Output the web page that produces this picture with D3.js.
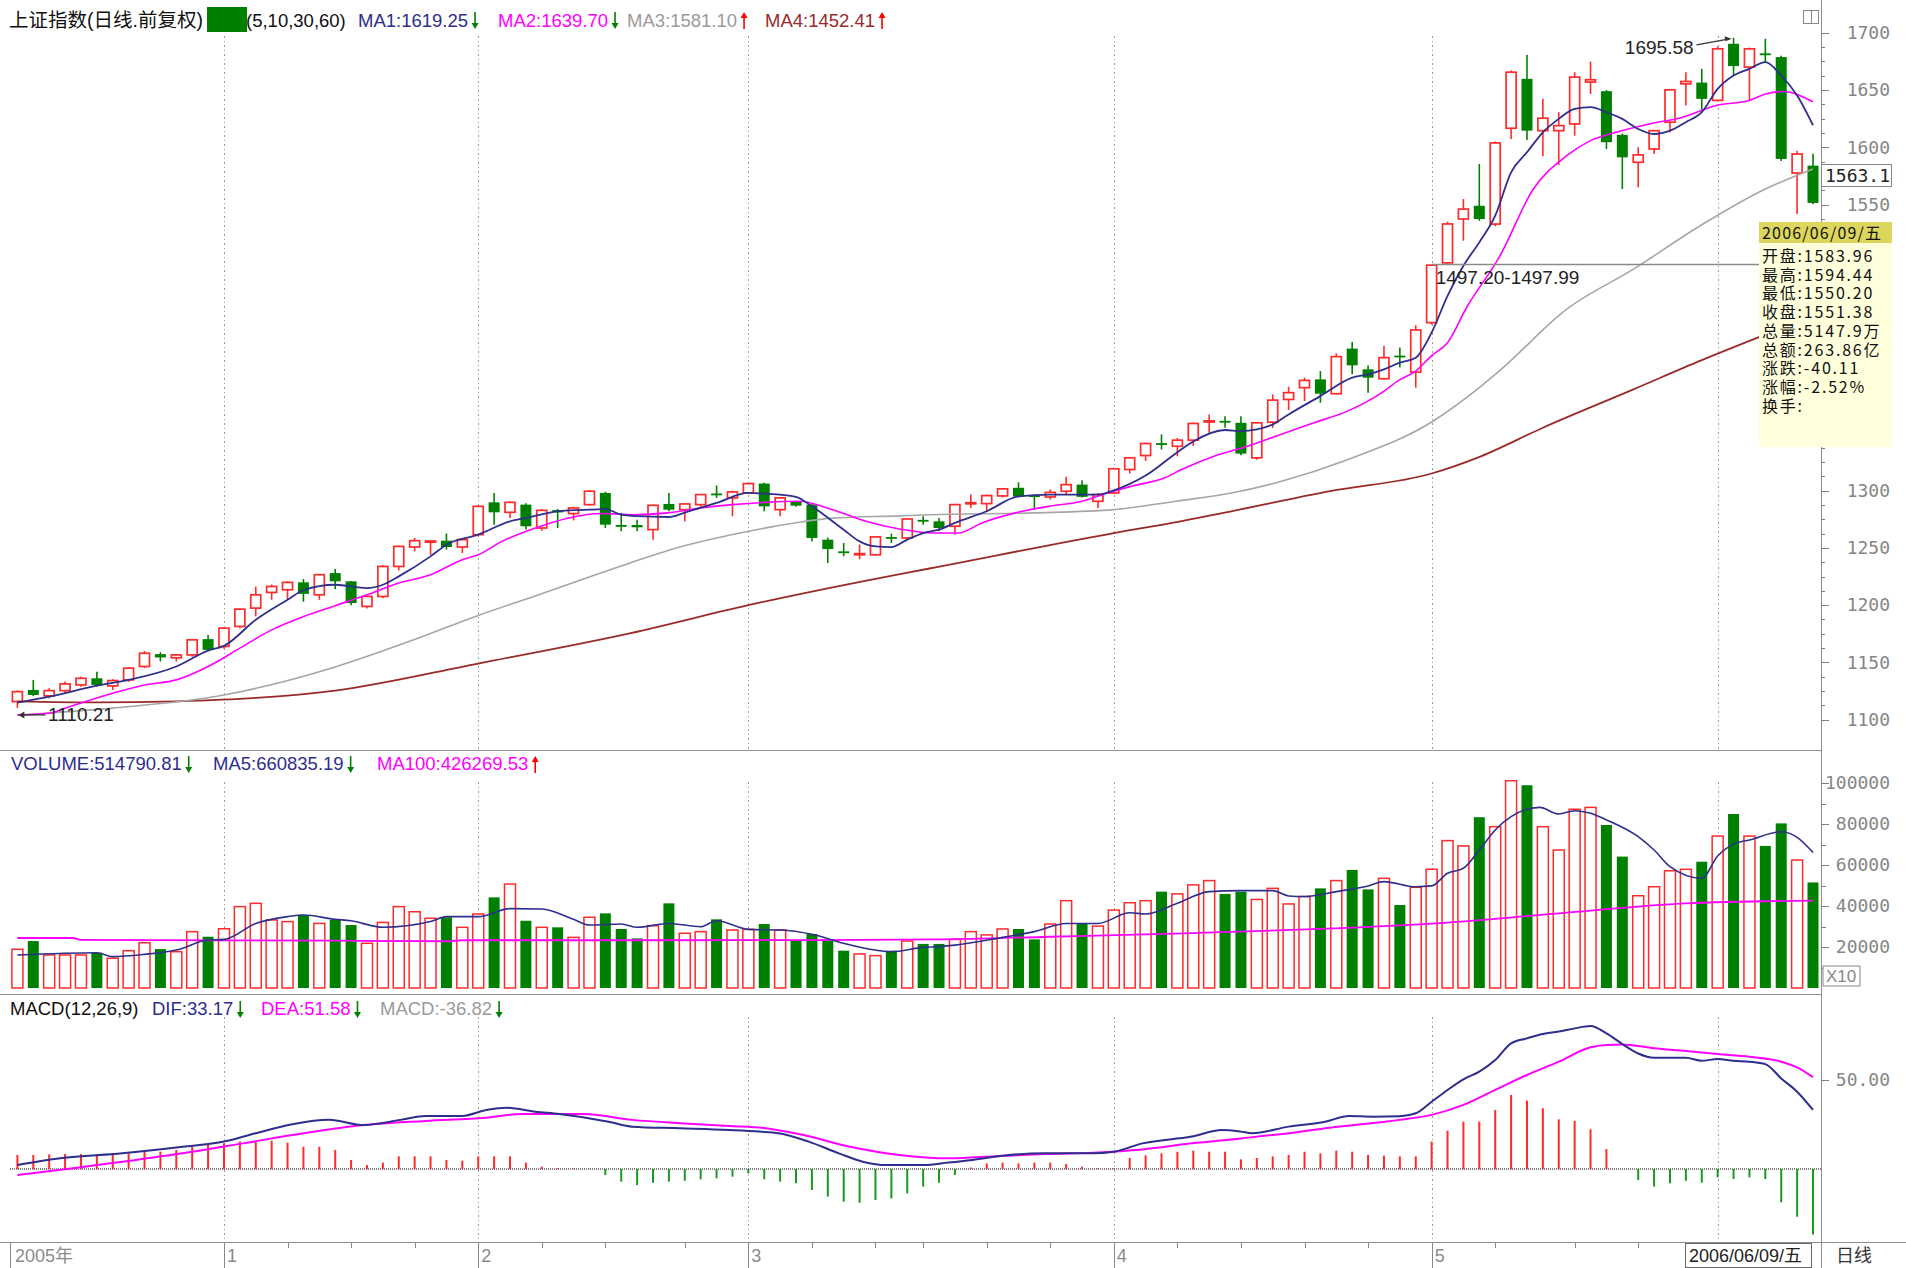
<html>
<head>
<meta charset="UTF-8"/>
<script src="https://d3js.org/d3.v7.min.js"></script>
<title>上证指数 日线</title>
<style>
body { margin:0; background:#fff; }
svg { display:block; font-family:"Liberation Sans", Arial, "Noto Sans CJK SC", sans-serif; }
.grid { stroke:#9a9a9a; stroke-dasharray:1.5 3; shape-rendering:crispEdges; }
.frame { stroke:#8f8f8f; stroke-width:1.2; fill:none; shape-rendering:crispEdges; }
.axis line { stroke:#808080; shape-rendering:crispEdges; }
.axis text { font-family:"DejaVu Sans Mono", monospace; fill:#858585; font-size:18px; }
.xaxis line { stroke:#888; shape-rendering:crispEdges; }
</style>
</head>
<body>
<svg id="chart" width="1906" height="1268"></svg>
<script>
'use strict';

// ---- data ----
// [open, high, low, close], Dec 2005 .. 2006-06-09
var ohlc = [
[1115.7,1125.5,1110.21,1124.4],[1125.9,1134.7,1120.5,1121.5],[1120.7,1127.4,1118.6,1125.3],[1125.3,1133.2,1123.0,1131.2],[1130.3,1137.6,1128.8,1136.1],
[1136.1,1141.9,1128.8,1130.3],[1129.4,1135.3,1125.9,1134.1],[1134.7,1146.0,1133.0,1144.9],[1146.4,1160.0,1145.0,1158.0],[1157.2,1158.9,1150.8,1154.3],
[1154.0,1157.0,1150.8,1156.5],[1156.5,1170.0,1155.0,1169.7],[1170.3,1173.8,1160.0,1160.9],[1163.9,1180.5,1162.0,1179.9],[1181.4,1197.0,1179.9,1196.5],
[1197.4,1216.3,1190.2,1209.0],[1211.1,1218.0,1204.7,1216.3],[1213.4,1220.8,1204.7,1219.9],[1219.9,1222.8,1203.0,1209.9],[1209.0,1227.0,1204.7,1226.6],
[1228.0,1231.6,1214.0,1220.8],[1220.8,1221.0,1200.0,1201.8],[1198.9,1208.0,1197.0,1207.6],[1207.6,1235.0,1206.0,1233.8],[1233.8,1252.0,1230.4,1251.3],
[1250.8,1258.7,1247.0,1256.3],[1255.0,1256.5,1244.0,1256.0],[1256.3,1262.5,1248.5,1250.8],[1250.8,1258.0,1245.5,1257.2],[1261.6,1287.0,1260.0,1286.3],
[1289.8,1298.0,1270.3,1281.1],[1281.1,1290.5,1276.2,1289.8],[1287.8,1289.0,1266.0,1268.9],[1267.4,1284.0,1265.0,1282.8],[1283.0,1284.0,1267.4,1281.0],
[1280.0,1286.0,1274.0,1284.9],[1287.8,1300.5,1287.0,1299.5],[1298.0,1299.0,1267.4,1270.3],[1270.0,1280.6,1264.5,1268.5],[1270.0,1274.7,1264.5,1268.0],
[1266.0,1288.0,1257.2,1287.2],[1288.4,1298.0,1282.0,1283.4],[1283.4,1289.0,1273.2,1288.4],[1287.8,1297.0,1286.0,1296.6],[1297.5,1304.5,1293.7,1296.5],
[1293.7,1300.0,1277.7,1298.9],[1298.0,1307.0,1297.0,1306.2],[1306.2,1307.0,1282.0,1286.3],[1283.4,1294.0,1277.7,1293.7],[1290.7,1291.0,1286.0,1286.9],
[1287.8,1289.0,1255.7,1258.7],[1257.2,1259.0,1236.8,1249.0],[1247.0,1254.3,1242.7,1245.5],[1244.0,1252.9,1240.0,1245.0],[1244.0,1260.0,1243.0,1259.6],
[1259.5,1262.5,1254.3,1258.5],[1258.7,1276.0,1257.0,1275.3],[1274.5,1277.7,1270.3,1273.5],[1273.2,1276.2,1264.5,1267.4],[1268.9,1288.5,1261.6,1287.8],
[1288.5,1296.6,1284.9,1289.5],[1288.7,1296.5,1282.0,1295.7],[1295.4,1302.0,1294.0,1301.6],[1302.5,1307.3,1294.0,1294.8],[1296.0,1296.6,1283.4,1295.5],
[1294.5,1301.0,1292.2,1298.5],[1299.5,1312.1,1296.6,1305.3],[1305.3,1309.0,1294.0,1294.6],[1290.7,1298.0,1284.9,1296.6],[1298.0,1320.0,1297.0,1319.1],
[1318.5,1329.5,1315.0,1328.7],[1330.7,1342.0,1326.0,1341.2],[1341.5,1349.1,1336.0,1340.5],[1338.8,1346.0,1330.1,1344.1],[1344.1,1359.5,1339.0,1358.7],
[1360.0,1366.6,1350.6,1361.0],[1361.0,1365.0,1355.0,1359.5],[1359.3,1365.1,1331.0,1332.4],[1328.7,1360.0,1327.0,1359.3],[1359.8,1384.1,1354.9,1379.1],
[1379.7,1390.8,1370.4,1385.6],[1390.0,1398.7,1378.3,1396.3],[1397.2,1404.5,1376.8,1384.7],[1384.7,1420.0,1384.0,1417.1],[1424.1,1429.9,1401.6,1409.5],
[1406.0,1409.3,1385.6,1398.7],[1397.8,1426.4,1397.0,1416.2],[1418.0,1425.0,1407.5,1417.0],[1403.6,1444.5,1390.0,1440.4],[1446.8,1497.2,1445.0,1497.0],
[1499.0,1535.0,1497.99,1533.0],[1537.3,1554.8,1518.4,1546.0],[1548.9,1585.4,1535.8,1537.3],[1532.9,1605.0,1531.0,1603.8],[1616.6,1667.0,1607.3,1665.6],
[1659.8,1680.8,1606.4,1614.5],[1614.5,1642.3,1592.1,1625.4],[1614.5,1630.6,1584.5,1618.9],[1620.4,1665.6,1610.1,1661.3],[1657.0,1674.9,1646.6,1659.0],
[1649.0,1650.0,1598.5,1604.4],[1610.8,1612.0,1563.5,1591.2],[1586.9,1600.0,1565.0,1593.3],[1598.5,1615.0,1594.1,1614.5],[1621.9,1651.0,1613.1,1650.2],
[1655.4,1665.6,1636.5,1657.5],[1656.5,1668.5,1632.0,1642.3],[1641.0,1688.0,1640.0,1686.0],[1690.4,1695.58,1662.7,1670.9],[1670.0,1687.0,1641.0,1686.0],
[1682.0,1694.8,1674.4,1680.5],[1678.8,1680.0,1588.0,1589.8],[1577.5,1597.0,1541.6,1594.1],[1583.96,1594.44,1550.20,1551.38]
];

// volume in axis units (x10)
var volume = [
18900,22900,16100,16100,16100,17200,14500,18200,22100,19000,
17700,27500,25000,28900,39700,41300,33200,32400,35600,31500,
33200,30700,21800,32000,39700,37200,34000,34500,29600,36100,
44200,50700,32800,29600,29600,24700,34500,36400,28800,24200,
30400,41300,26700,27500,33500,28300,28600,31200,28300,23100,
26300,23100,18200,16600,15800,18200,22900,21500,21500,23700,
27500,25900,28800,28800,23700,31200,42600,31200,30200,38000,
41600,42600,47000,45900,50300,52400,45900,47000,43200,48600,
41000,44600,48600,52400,57600,48100,53500,40500,49100,57900,
71900,69300,83300,78700,101100,98900,78700,67300,87200,88100,
79500,64100,45000,49400,57200,57900,61600,74100,84900,74100,
69300,80300,62400,51479
];

var macdHist = [
7.9,7.9,8.2,8.4,8.4,8.4,8.8,8.8,9.7,9.7,
10.7,12.5,13.5,14.4,15.4,15.4,15.9,14.8,12.5,12.5,
10.7,5.1,2.2,3.6,7.1,7.1,7.1,5.1,4.7,7.1,
7.1,7.1,3.6,1.3,0.5,0.3,0.2,-3.4,-7.1,-9.0,
-7.7,-7.1,-6.6,-5.8,-5.2,-4.3,-2.5,-5.8,-7.1,-8.0,
-11.8,-15.5,-18.4,-19.0,-17.4,-16.5,-13.7,-9.9,-7.7,-3.4,
0.8,3.2,3.6,3.2,3.6,3.6,2.8,1.3,0.4,0.4,
6.2,7.7,8.8,9.7,10.3,9.7,9.7,5.4,6.2,7.1,
7.9,9.7,8.8,10.3,9.7,7.9,7.5,7.1,7.1,15.4,
21.5,26.6,26.6,33.1,41.6,38.4,34.1,27.9,27.0,22.3,
11.2,0,-6.2,-9.9,-8.0,-6.6,-7.7,-4.7,-5.6,-4.7,
-5.6,-18.7,-26.8,-36.82
];

// moving-average lines read as [index, value]
var ma5Pts = [[0,1114.8],[2,1120],[5,1129.7],[7,1134.7],[10,1146.4],[12,1160.3],[13,1164.4],[15,1187.2],[17,1204.7],[18,1213],[20,1217.8],[22,1214.9],[23,1217.8],[24,1225.1],[26,1242.6],[27,1252.8],[29,1261.6],[31,1273.2],[32,1276.2],[34,1282],[36,1283.4],[37,1283.8],[38,1279],[39,1277.7],[41,1277],[42,1280.9],[44,1289.3],[46,1298],[47,1297.4],[49,1294.6],[50,1286.3],[52,1265.9],[53,1255.7],[54,1251.3],[55,1250.7],[56,1257.2],[57,1263],[58,1265.9],[59,1271.8],[61,1282],[63,1295.1],[65,1296.6],[67,1296.6],[68,1296.6],[69,1300.3],[71,1313.2],[73,1333.6],[74,1343],[76,1353],[77,1352],[78,1353.5],[79,1357.8],[80,1366.6],[82,1382.6],[84,1398.7],[85,1401.6],[86,1406],[87,1411.8],[88,1416.2],[89,1438.1],[90,1470.2],[91,1496.5],[92,1516.9],[93,1540.2],[94,1578.1],[95,1595.6],[96,1613.1],[97,1624.8],[98,1633.5],[99,1635],[100,1630.6],[101,1624.8],[102,1616],[103,1611.6],[104,1614.5],[105,1621.9],[106,1630.6],[107,1651],[108,1662.7],[109,1668.5],[110,1674.4],[111,1662.7],[112,1645.2],[113,1619.25]];
var ma10Pts = [[0,1104],[2,1105.5],[3,1110],[6,1123],[8,1130.3],[10,1134.7],[12,1146.4],[14,1162.4],[16,1178.4],[18,1190],[20,1199.5],[22,1209],[24,1219.3],[26,1226.6],[28,1239.7],[29,1244],[30.5,1255.7],[32.6,1267.4],[34.7,1276.2],[36.8,1280],[38.8,1279],[40.9,1280.6],[43,1284.9],[45,1287.8],[47.1,1289.8],[49.2,1290.7],[51.3,1283.4],[53.4,1273.2],[55.5,1266.5],[57.6,1263],[59.2,1263],[60.7,1271.8],[62.8,1280.6],[64.9,1286.3],[67,1290.7],[68.6,1298],[70.1,1303.8],[72.2,1311.2],[73.2,1318],[75.3,1330],[77.4,1338.8],[79.5,1349.1],[81.6,1359.3],[83.7,1369.5],[85.8,1385],[87,1397],[88,1404.5],[89,1418],[90,1429.3],[91.2,1460],[93.3,1505.1],[95.4,1563.5],[97.5,1592.6],[99,1605.8],[100.6,1613.1],[102.7,1620.4],[104.8,1626.2],[106.9,1636.5],[109,1640.9],[110,1646.6],[111.1,1648.7],[113,1639.7]];
var ma30Pts = [[0,1104],[6,1110],[13,1121.5],[20,1146],[25,1170],[29,1191],[32.5,1207.6],[36.7,1228],[38.6,1237],[41,1248],[46,1264.5],[49,1272],[51.3,1276],[55.5,1278],[57.4,1279],[64,1280.6],[69,1283.4],[73,1291],[76.4,1298],[79.5,1308],[83.7,1327],[89,1360],[92,1390],[93.3,1405],[97.5,1458.5],[101.7,1493.5],[105.9,1531.4],[110,1563.5],[113,1581.1]];
var ma60Pts = [[0,1116],[5,1115],[10,1116],[15,1119],[20,1125.4],[29,1149],[38.6,1175.5],[46,1200],[54,1223],[57.4,1232],[69,1263],[73.2,1273.2],[76.4,1282],[82.6,1299.5],[89,1315],[92.1,1330],[96,1355],[101.7,1388.5],[106,1414],[109.8,1435.2],[113,1452.41]];

var volMa5Pts = [[0,16100],[5,17200],[6,15300],[8,16400],[10,18500],[12,23400],[13,23700],[15,31500],[17,34800],[18,35600],[20,33500],[21,32800],[23,29600],[26,32400],[27,34800],[29,34800],[31,38700],[33,38500],[35,33500],[36,30700],[38,31200],[39,29600],[41,31500],[43,29900],[44,32800],[46,28600],[48,28300],[50,26200],[52,21800],[54,18500],[55,17700],[57,19800],[58,20200],[59,20900],[62,24700],[64,27500],[66,31500],[68,31500],[70,36700],[71,36100],[73,41300],[75,47000],[77,47500],[79,47500],[80,44900],[81,44600],[83,47000],[85,49800],[86,51900],[88,49400],[89,49800],[90,56000],[91,58400],[92,67300],[93,77100],[94,83600],[95.8,88100],[97,84900],[98,86500],[99,85200],[100,82000],[102,73800],[103,67300],[104,59200],[106,53500],[107,64400],[108,70200],[109,72200],[111,76200],[112,73500],[113,66084]];
var volMa100Pts = [[0,24400],[3.5,24400],[4,23500],[20,23100],[27,22800],[28,23300],[40,23300],[50,23400],[58,23700],[65,25000],[74,26800],[82,28800],[90,31900],[97,36400],[105,41300],[113,42627]];

var difPts = [[0,2.2],[2.7,6],[6.6,8.8],[10.4,12.5],[13,15.4],[15,20.1],[17.3,25.1],[19.6,27.6],[21.8,24.7],[24.1,27.6],[25.7,29.8],[28,29.8],[29.5,33.1],[30.8,34.4],[32.6,32.2],[34.1,30.9],[37.2,26.6],[38.7,23.8],[41.7,22.9],[44.8,21.9],[46.7,21],[47.9,20.1],[49.8,15.4],[51.7,8.8],[53.2,4.1],[54.7,2.2],[57,2.2],[58.6,3.6],[60.1,5.1],[62.4,7.9],[64.7,8.8],[67.7,8.8],[69,9.7],[70.8,14.4],[73.9,18.2],[75.8,21.9],[77,21],[77.7,20.1],[80,23.8],[82.3,26.6],[83.8,29.8],[85.3,29.4],[87,29.6],[88,31.3],[89,37.8],[90,44.4],[91,50.4],[92,54.7],[93,61.2],[94,70.6],[95,73.4],[96,75.8],[97,77.2],[98,79],[99,80.3],[100,76.2],[101,70.2],[102,64.9],[103,62.5],[104,62.5],[105,62.5],[106,60.8],[107,61.8],[108,60.8],[109,60.3],[110,58.9],[111,50.9],[112,43.4],[113,33.17]];
var deaPts = [[0,-3.4],[3.5,0.4],[6.6,4.1],[10.4,8.8],[14.2,14.4],[18,20.1],[21.8,24.7],[25.7,27],[29.5,28.8],[31.8,30.9],[35.6,30.9],[38.7,27.6],[41.7,25.7],[44.8,24.2],[47.1,22.9],[49.4,19.2],[52.4,12.5],[55.5,7.9],[58.6,6],[61.6,7.1],[64.7,8.4],[67.7,9.2],[70.8,11],[73.9,14.4],[77,17.2],[80,20.1],[83.1,23.8],[86.1,26.6],[87,27.6],[89,30.4],[91,36],[93,44.4],[95,52.8],[97,60.3],[99,68.4],[100,69.7],[101,70],[103,67.8],[105,66.3],[107,64.6],[109,63.1],[111,60.3],[112,57.1],[113,51.58]];

// first trading day of each month, labels and weekly ticks
var monthStarts = [13, 29, 46, 69, 89, 107];
var monthLabels = ['1', '2', '3', '4', '5'];
var weekTicks = [13,17,21,25,29,33,37,42,46,50,54,57,61,65,69,73,77,81,85,89,93,98,102,107];

// price labels that are not covered by the info box
var priceTicks = [1100,1150,1200,1250,1300,1550,1600,1650,1700];
var volTicks = [20000,40000,60000,80000,100000];
var macdTicks = [50];

var maLast = ['1619.25','1639.70','1581.10','1452.41'];
var maUp = [false,false,true,true];
var volHead = [['VOLUME','514790.81',false],['MA5','660835.19',false],['MA100','426269.53',true]];
var macdHead = [['DIF','33.17',false],['DEA','51.58',false],['MACD','-36.82',false]];

var tipTitle = '2006/06/09/五';
var tipRows = [['开盘','1583.96'],['最高','1594.44'],['最低','1550.20'],['收盘','1551.38'],['总量','5147.9万'],['总额','263.86亿'],['涨跌','-40.11'],['涨幅','-2.52%'],['换手','']];
var gapText = '1497.20-1497.99', gapPrice = 1497.6;
var highText = '1695.58', highIdx = 108, highVal = 1695.58;
var lowText = '1110.21', lowIdx = 0, lowVal = 1110.21;
var cursorText = '1563.1';

// ---- drawing ----
var RED = '#ff2a2a', GREEN = '#008000', NAVY = '#2e2e8c', MAG = '#ff00ff', GRAY = '#a6a6a6', BROWN = '#9a2a2a';
var AX = 1821;

var svg = d3.select('#chart');
svg.append('rect').attr('width',1906).attr('height',1268).attr('fill','#fff');

var x = d3.scaleLinear().domain([0, ohlc.length - 1]).range([17.4, 1813]);
var yP = d3.scaleLinear().domain([1100, 1700]).range([719.6, 32.8]);
var yV = d3.scaleLinear().domain([0, 100000]).range([988, 783]);
var yM = d3.scaleLinear().domain([0, 50]).range([1169, 1080]);

// month grid lines per panel
[[36,750],[782,988],[1017,1240]].forEach(function(r){
	svg.append('g').selectAll('line').data(monthStarts).enter().append('line')
	.attr('class','grid')
	.attr('x1',function(d){return Math.round(x(d))+0.5}).attr('x2',function(d){return Math.round(x(d))+0.5})
	.attr('y1',r[0]).attr('y2',r[1]);
});

// panel frames
[750.5, 994.5, 1242.5].forEach(function(y0){
	svg.append('line').attr('class','frame').attr('x1',0).attr('x2',AX).attr('y1',y0).attr('y2',y0);
});
svg.append('line').attr('class','frame').attr('x1',AX+0.5).attr('x2',AX+0.5).attr('y1',0).attr('y2',1268).attr('stroke-width',1.5);
svg.append('line').attr('class','frame').attr('x1',AX).attr('x2',1906).attr('y1',1242.5).attr('y2',1242.5);

// candles
var cData = ohlc.map(function(d,i){ return {i:i, o:d[0], h:d[1], l:d[2], c:d[3]}; });
svg.append('g').selectAll('g').data(cData).enter().append('g')
.each(function(d){
	var g = d3.select(this), cx = x(d.i);
	var top = yP(Math.max(d.o,d.c)), bot = yP(Math.min(d.o,d.c));
	var h = Math.max(bot - top, 1);
	if (d.c >= d.o) {
		g.append('line').attr('x1',cx).attr('x2',cx).attr('y1',yP(d.h)).attr('y2',top)
			.attr('stroke',RED).attr('stroke-width',1.6);
		g.append('line').attr('x1',cx).attr('x2',cx).attr('y1',top + h).attr('y2',yP(d.l))
			.attr('stroke',RED).attr('stroke-width',1.6);
		g.append('rect').attr('x',cx-5).attr('y',top).attr('width',10).attr('height',h)
			.attr('fill','#fff').attr('stroke',RED).attr('stroke-width',1.7);
	} else {
		g.append('line').attr('x1',cx).attr('x2',cx).attr('y1',yP(d.h)).attr('y2',yP(d.l))
			.attr('stroke',GREEN).attr('stroke-width',1.6);
		g.append('rect').attr('x',cx-5.5).attr('y',top).attr('width',11).attr('height',Math.max(h,1.8))
			.attr('fill',GREEN);
	}
});

// volume bars
svg.append('g').selectAll('rect').data(volume).enter().append('rect')
.attr('x',function(d,i){return x(i)-5.5})
.attr('y',function(d){return yV(d)})
.attr('width',11)
.attr('height',function(d){return yV(0)-yV(d)})
.attr('fill',function(d,i){return ohlc[i][3] >= ohlc[i][0] ? '#fff' : GREEN})
.attr('stroke',function(d,i){return ohlc[i][3] >= ohlc[i][0] ? RED : 'none'})
.attr('stroke-width',1.5);

// MACD histogram
svg.append('line').attr('x1',10).attr('x2',AX).attr('y1',yM(0)).attr('y2',yM(0))
	.attr('stroke','#555').attr('stroke-width',1.4).attr('stroke-dasharray','1 1');
svg.append('g').selectAll('line').data(macdHist).enter().append('line')
.attr('x1',function(d,i){return x(i)}).attr('x2',function(d,i){return x(i)})
.attr('y1',yM(0)).attr('y2',function(d){return yM(d)})
.attr('stroke',function(d){return d >= 0 ? RED : '#1a9a1a'})
.attr('stroke-width',2);

// lines
function drawLine(pts, ys, color, w){
	var gen = d3.line().x(function(d){return x(d[0])}).y(function(d){return ys(d[1])}).curve(d3.curveMonotoneX);
	svg.append('path').datum(pts).attr('d',gen).attr('fill','none').attr('stroke',color).attr('stroke-width',w);
}
drawLine(ma60Pts, yP, BROWN, 1.8);
drawLine(ma30Pts, yP, GRAY, 1.6);
drawLine(ma10Pts, yP, MAG, 1.6);
drawLine(ma5Pts, yP, NAVY, 1.8);
drawLine(volMa100Pts, yV, MAG, 1.8);
drawLine(volMa5Pts, yV, NAVY, 1.6);
drawLine(deaPts, yM, MAG, 2);
drawLine(difPts, yM, NAVY, 2);

// right axes
var pAxis = svg.append('g').attr('class','axis').attr('transform','translate('+AX+',0)');
pAxis.append('g').call(d3.axisRight(yP).tickValues(d3.range(1112.5, 1700, 12.5)).tickSize(4).tickFormat(''))
	.call(function(g){g.select('.domain').remove()});
pAxis.append('g').call(d3.axisRight(yP).tickValues(priceTicks).tickSize(8).tickFormat(d3.format('d')))
	.call(function(g){g.select('.domain').remove(); g.selectAll('text').attr('x',69).attr('text-anchor','end')});

var vAxis = svg.append('g').attr('class','axis').attr('transform','translate('+AX+',0)');
vAxis.append('g').call(d3.axisRight(yV).tickValues(d3.range(10000, 100001, 10000)).tickSize(5).tickFormat(''))
	.call(function(g){g.select('.domain').remove()});
vAxis.append('g').call(d3.axisRight(yV).tickValues(volTicks).tickSize(8).tickFormat(d3.format('d')))
	.call(function(g){g.select('.domain').remove(); g.selectAll('text').attr('x',69).attr('text-anchor','end')});

var mAxis = svg.append('g').attr('class','axis').attr('transform','translate('+AX+',0)');
mAxis.append('g').call(d3.axisRight(yM).tickValues(macdTicks).tickSize(8).tickFormat(d3.format('.2f')))
	.call(function(g){g.select('.domain').remove(); g.selectAll('text').attr('x',69).attr('text-anchor','end')});

// X10 box
svg.append('rect').attr('x',1823).attr('y',966).attr('width',37).attr('height',20).attr('fill','#fff').attr('stroke','#888');
svg.append('text').attr('x',1826).attr('y',982).text('X10').attr('fill','#888').attr('font-size',17);

// bottom axis strip
svg.append('g').attr('class','xaxis').attr('transform','translate(0,1242.5)')
	.call(d3.axisBottom(x).tickValues(weekTicks).tickSize(5).tickFormat(''))
	.call(function(g){g.select('.domain').remove()});
svg.append('g').selectAll('line').data([0].concat(monthStarts.slice(0,5))).enter().append('line')
	.attr('x1',function(d,i){return i === 0 ? 10.5 : Math.round(x(d))+0.5})
	.attr('x2',function(d,i){return i === 0 ? 10.5 : Math.round(x(d))+0.5})
	.attr('y1',1243).attr('y2',1268).attr('stroke','#888');
svg.append('text').attr('x',15).attr('y',1262).text('2005年').attr('fill','#8a8a8a').attr('font-size',18);
svg.append('g').selectAll('text').data(monthLabels).enter().append('text')
	.attr('x',function(d,i){return x(monthStarts[i])+3}).attr('y',1262)
	.text(function(d){return d}).attr('fill','#8a8a8a').attr('font-size',18);
svg.append('rect').attr('x',1685.5).attr('y',1243.5).attr('width',126).attr('height',24).attr('fill','#fff').attr('stroke','#666');
svg.append('text').attr('x',1689).attr('y',1262).text(tipTitle).attr('fill','#222').attr('font-size',18);
svg.append('text').attr('x',1836).attr('y',1262).text('日线').attr('fill','#333').attr('font-size',18)
	.attr('font-family','"Noto Sans CJK SC", sans-serif');

// header helpers
function arrow(ax, up, yTop, yBot){
	var col = up ? '#ff0000' : GREEN;
	var tipY = up ? yTop : yBot, s = up ? 1 : -1;
	svg.append('line').attr('x1',ax).attr('x2',ax).attr('y1',yTop + (up?4:0)).attr('y2',yBot - (up?0:4))
		.attr('stroke',col).attr('stroke-width',1.6);
	svg.append('path').attr('d','M'+(ax-3.5)+','+(tipY+6*s)+'L'+(ax+3.5)+','+(tipY+6*s)+'L'+ax+','+tipY+'Z').attr('fill',col);
}
function label(lx, ly, s, col, size){
	return svg.append('text').attr('x',lx).attr('y',ly).text(s).attr('fill',col).attr('font-size',size || 18.5);
}
function withArrow(t, up, yTop, yBot){
	var bx = +t.attr('x') + t.node().getComputedTextLength() + 7;
	arrow(bx, up, yTop, yBot);
}

// price header
label(9, 27, '上证指数(日线.前复权)', '#111', 19.5);
svg.append('rect').attr('x',207).attr('y',7).attr('width',40).attr('height',25).attr('fill',GREEN);
label(246, 27, '(5,10,30,60)', '#111');
var maCols = [NAVY, MAG, '#9a9a9a', BROWN];
var maX = [358, 498, 627, 765];
maLast.forEach(function(v,k){
	var t = label(maX[k], 27, 'MA' + (k+1) + ':' + v, maCols[k]);
	withArrow(t, maUp[k], 12, 29);
});

// volume header
var vX = [11, 213, 377], vCols = [NAVY, NAVY, MAG];
volHead.forEach(function(h,k){
	var t = label(vX[k], 770, h[0] + ':' + h[1], vCols[k]);
	withArrow(t, h[2], 756, 773);
});

// macd header
label(10, 1015, 'MACD(12,26,9)', '#111');
var mX = [152, 261, 380], mCols = [NAVY, MAG, '#9a9a9a'];
macdHead.forEach(function(h,k){
	var t = label(mX[k], 1015, h[0] + ':' + h[1], mCols[k]);
	withArrow(t, h[2], 1001, 1018);
});

// annotations
var ly = yP(lowVal);
svg.append('line').attr('x1',x(lowIdx)+28).attr('x2',x(lowIdx)+2).attr('y1',ly+7).attr('y2',ly+7).attr('stroke','#333').attr('stroke-width',1.3);
svg.append('path').attr('d','M'+(x(lowIdx)+1)+','+(ly+7)+'l6,-3.5l0,7z').attr('fill','#333');
label(48, ly+13, lowText, '#222', 19);

var hx = x(highIdx), hy = yP(highVal);
label(hx-40, hy+16, highText, '#222', 19).attr('text-anchor','end');
svg.append('line').attr('x1',hx-37).attr('y1',hy+7).attr('x2',hx-4).attr('y2',hy+1).attr('stroke','#333').attr('stroke-width',1.2);
svg.append('path').attr('d','M'+(hx-2)+','+(hy+1)+'l-7,-2.5l1,5z').attr('fill','#333');

var gy = yP(gapPrice);
svg.append('line').attr('x1',x(89)).attr('x2',1759).attr('y1',gy).attr('y2',gy).attr('stroke','#8a8a8a').attr('stroke-width',1.3);
label(x(89)+4, gy+20, gapText, '#222', 19);

// top-right icon
svg.append('rect').attr('x',1803.5).attr('y',10.5).attr('width',15).attr('height',13).attr('fill','#fff').attr('stroke','#888');
svg.append('line').attr('x1',1811.5).attr('x2',1811.5).attr('y1',11).attr('y2',23).attr('stroke','#888');

// cursor value box on the axis
svg.append('rect').attr('x',AX+0.5).attr('y',164.5).attr('width',70).attr('height',22).attr('fill','#fff').attr('stroke','#888');
svg.append('text').attr('x',1825).attr('y',182).text(cursorText).attr('fill','#222').attr('font-size',18)
	.attr('font-family','"DejaVu Sans Mono", monospace');

// info box
var tip = svg.append('g').attr('font-family','"Noto Sans CJK SC", sans-serif');
tip.append('rect').attr('x',1759).attr('y',222).attr('width',133).attr('height',225).attr('fill','#ffffdc');
tip.append('rect').attr('x',1759).attr('y',222).attr('width',133).attr('height',21).attr('fill','#dcd65c');
tip.append('text').attr('x',1762).attr('y',239).text(tipTitle).attr('fill','#111').attr('font-size',16)
	.attr('letter-spacing',1.2);
tip.selectAll('.row').data(tipRows).enter().append('text').attr('class','row')
	.attr('x',1762).attr('y',function(d,i){return 262 + i*18.7})
	.text(function(d){return d[0] + ':' + d[1]})
	.attr('fill','#111').attr('font-size',16).attr('letter-spacing',1.8);
</script>
</body>
</html>
